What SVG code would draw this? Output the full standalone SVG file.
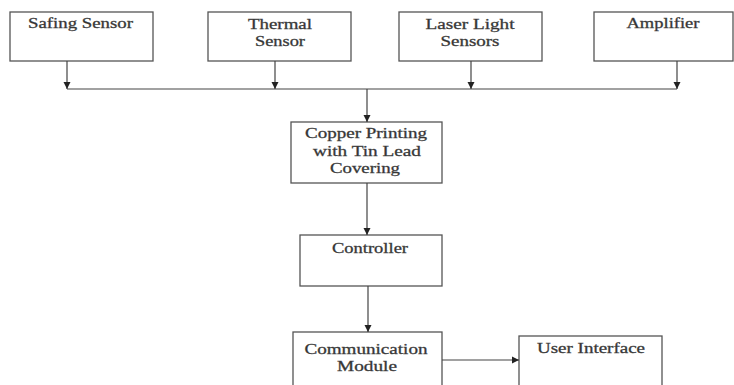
<svg xmlns="http://www.w3.org/2000/svg" width="734" height="385" viewBox="0 0 734 385">
<defs>
<marker id="ah" markerWidth="8" markerHeight="8" refX="7" refY="4" orient="auto" markerUnits="userSpaceOnUse">
<path d="M0,0.5 L7,4 L0,7.5 Z" fill="#222"/>
</marker>
<style>
.box{fill:#fff;stroke:#555;stroke-width:1.3}
.ln{fill:none;stroke:#444;stroke-width:1.2}
text{font-family:"Liberation Serif","Times New Roman",serif;font-size:14px;fill:#333;text-anchor:middle;stroke:#444;stroke-width:0.3}
</style>
</defs>
<rect width="734" height="385" fill="#fff"/>
<g id="safing"><rect class="box" x="10" y="12" width="143" height="49"/><text x="80.5" y="28" textLength="105" lengthAdjust="spacingAndGlyphs">Safing Sensor</text></g>
<g id="thermal"><rect class="box" x="208" y="12" width="143" height="49"/><text x="280" y="29" textLength="64" lengthAdjust="spacingAndGlyphs">Thermal</text><text x="280" y="46" textLength="50" lengthAdjust="spacingAndGlyphs">Sensor</text></g>
<g id="laser"><rect class="box" x="399" y="12" width="143" height="49"/><text x="470" y="29" textLength="89" lengthAdjust="spacingAndGlyphs">Laser Light</text><text x="470" y="46" textLength="59" lengthAdjust="spacingAndGlyphs">Sensors</text></g>
<g id="amplifier"><rect class="box" x="594" y="12" width="139" height="49"/><text x="663" y="28" textLength="73" lengthAdjust="spacingAndGlyphs">Amplifier</text></g>
<g id="copper"><rect class="box" x="291" y="122" width="151" height="61"/><text x="366" y="138" textLength="122" lengthAdjust="spacingAndGlyphs">Copper Printing</text><text x="367" y="156" textLength="108" lengthAdjust="spacingAndGlyphs">with Tin Lead</text><text x="365" y="173" textLength="70" lengthAdjust="spacingAndGlyphs">Covering</text></g>
<g id="controller"><rect class="box" x="300" y="235" width="142" height="51"/><text x="370" y="253" textLength="76" lengthAdjust="spacingAndGlyphs">Controller</text></g>
<g id="comm"><rect class="box" x="293" y="332" width="149" height="60"/><text x="366" y="354" textLength="123" lengthAdjust="spacingAndGlyphs">Communication</text><text x="367" y="371" textLength="60" lengthAdjust="spacingAndGlyphs">Module</text></g>
<g id="ui"><rect class="box" x="519" y="336" width="143" height="56"/><text x="591" y="353" textLength="108" lengthAdjust="spacingAndGlyphs">User Interface</text></g>
<g id="connectors">
<path class="ln" d="M67,61 V89" marker-end="url(#ah)"/>
<path class="ln" d="M275,61 V89" marker-end="url(#ah)"/>
<path class="ln" d="M471,61 V89" marker-end="url(#ah)"/>
<path class="ln" d="M677,61 V89" marker-end="url(#ah)"/>
<path class="ln" d="M67,89 H677"/>
<path class="ln" d="M367,89 V122" marker-end="url(#ah)"/>
<path class="ln" d="M367,183 V235" marker-end="url(#ah)"/>
<path class="ln" d="M368,286 V332" marker-end="url(#ah)"/>
<path class="ln" d="M442,360 H519" marker-end="url(#ah)"/>
</g>
</svg>
